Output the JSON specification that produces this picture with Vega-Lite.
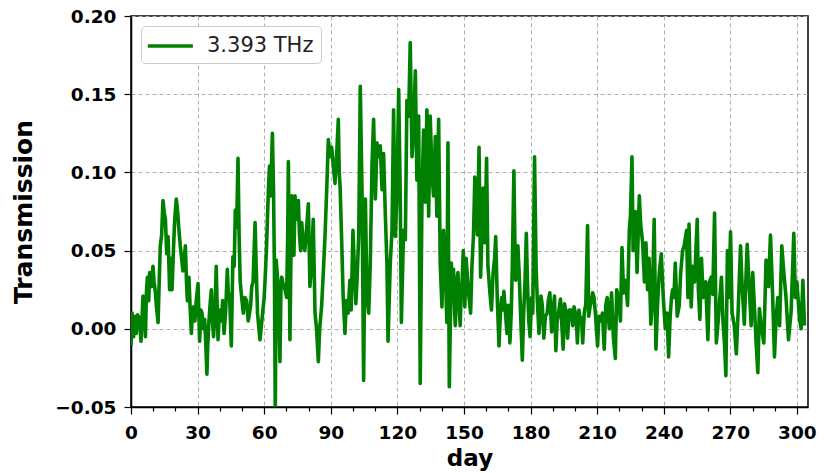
{
  "$schema": "https://vega.github.io/schema/vega-lite/v6.json",
  "width": 677,
  "height": 391,
  "autosize": {"type": "none"},
  "padding": {"left": 131, "top": 16, "right": 21, "bottom": 66},
  "background": "white",
  "config": {
    "font": "DejaVu Sans",
    "view": {"stroke": "black", "strokeWidth": 1.5},
    "axis": {
      "labelFont": "DejaVu Sans",
      "labelFontSize": 18.5,
      "labelFontWeight": "bold",
      "labelColor": "black",
      "titleFont": "DejaVu Sans",
      "titleFontSize": 23,
      "titleFontWeight": "bold",
      "titleColor": "black",
      "domainColor": "black",
      "domainWidth": 1.5,
      "tickColor": "black",
      "tickWidth": 1.2,
      "gridColor": "#b0b0b0",
      "gridDash": [4, 3],
      "gridWidth": 1
    },
    "legend": {
      "orient": "top-left",
      "offset": 10,
      "padding": 7,
      "strokeColor": "#cccccc",
      "fillColor": "white",
      "cornerRadius": 4,
      "symbolType": "M-1.2,0L2.9,0",
      "symbolSize": 484,
      "symbolStrokeWidth": 3.5,
      "labelFont": "DejaVu Sans",
      "labelFontSize": 21,
      "labelFontWeight": "normal",
      "labelColor": "#222222",
      "labelOffset": 33
    }
  },
  "data": {
    "values": [
      {"day":0,"value":-0.011},{"day":0.5,"value":0.010},{"day":1.2,"value":-0.005},{"day":2.0,"value":0.008},{"day":2.4,"value":-0.003},{"day":3.0,"value":0.009},{"day":3.9,"value":0.006},{"day":4.5,"value":-0.008},{"day":5.4,"value":0.021},{"day":6.0,"value":0.012},{"day":6.5,"value":-0.005},{"day":7.0,"value":0.025},{"day":7.4,"value":0.033},{"day":8.0,"value":0.018},{"day":8.4,"value":0.036},{"day":9.2,"value":0.027},{"day":9.9,"value":0.040},{"day":10.4,"value":0.030},{"day":11.0,"value":0.023},{"day":11.6,"value":0.012},{"day":12.2,"value":0.004},{"day":12.7,"value":0.030},{"day":13.2,"value":0.053},{"day":13.8,"value":0.060},{"day":14.4,"value":0.082},{"day":15.0,"value":0.074},{"day":15.5,"value":0.070},{"day":16.1,"value":0.048},{"day":16.7,"value":0.059},{"day":17.1,"value":0.040},{"day":17.4,"value":0.025},{"day":18.0,"value":0.045},{"day":18.5,"value":0.025},{"day":19.1,"value":0.050},{"day":19.7,"value":0.070},{"day":20.4,"value":0.083},{"day":21.0,"value":0.075},{"day":21.5,"value":0.065},{"day":22.2,"value":0.053},{"day":22.8,"value":0.045},{"day":23.4,"value":0.037},{"day":24.0,"value":0.045},{"day":24.5,"value":0.053},{"day":25.0,"value":0.030},{"day":25.4,"value":0.018},{"day":26.1,"value":0.033},{"day":26.6,"value":0.015},{"day":27.2,"value":-0.003},{"day":27.7,"value":0.010},{"day":28.2,"value":0.014},{"day":28.8,"value":0.005},{"day":29.4,"value":0.018},{"day":30.2,"value":0.029},{"day":30.9,"value":-0.008},{"day":31.5,"value":0.012},{"day":32.0,"value":0.010},{"day":32.6,"value":0.000},{"day":33.2,"value":0.006},{"day":33.7,"value":-0.010},{"day":34.2,"value":-0.029},{"day":34.6,"value":-0.010},{"day":35.0,"value":0.002},{"day":35.6,"value":0.015},{"day":36.2,"value":0.025},{"day":36.7,"value":0.005},{"day":37.2,"value":-0.005},{"day":37.8,"value":0.010},{"day":38.4,"value":0.040},{"day":38.8,"value":0.015},{"day":39.2,"value":-0.007},{"day":39.9,"value":0.012},{"day":40.7,"value":0.005},{"day":41.3,"value":0.018},{"day":41.9,"value":-0.003},{"day":42.6,"value":0.010},{"day":43.4,"value":0.038},{"day":43.9,"value":0.020},{"day":44.4,"value":0.022},{"day":44.8,"value":0.005},{"day":45.2,"value":-0.011},{"day":45.9,"value":0.046},{"day":46.5,"value":0.040},{"day":47.0,"value":0.076},{"day":47.6,"value":0.065},{"day":48.2,"value":0.109},{"day":48.7,"value":0.060},{"day":49.2,"value":0.030},{"day":49.8,"value":0.021},{"day":50.6,"value":0.010},
      {"day":51.3,"value":0.020},{"day":52.1,"value":0.018},{"day":52.8,"value":0.005},{"day":53.4,"value":0.010},{"day":53.9,"value":0.015},{"day":54.4,"value":0.027},{"day":55.0,"value":0.030},{"day":55.9,"value":0.068},{"day":56.5,"value":0.035},{"day":57.0,"value":0.010},{"day":57.5,"value":0.002},{"day":58.1,"value":-0.007},{"day":58.6,"value":0.000},{"day":59.3,"value":0.010},{"day":60.0,"value":0.020},{"day":60.4,"value":0.031},{"day":61.0,"value":0.050},{"day":61.9,"value":0.089},{"day":62.4,"value":0.104},{"day":62.9,"value":0.085},{"day":63.4,"value":0.110},{"day":63.7,"value":0.125},{"day":64.2,"value":0.090},{"day":64.6,"value":0.040},{"day":65.0,"value":-0.056},{"day":65.4,"value":0.044},{"day":65.9,"value":0.035},{"day":66.4,"value":0.020},{"day":67.1,"value":-0.021},{"day":67.6,"value":0.030},{"day":67.9,"value":0.033},{"day":68.6,"value":0.028},{"day":69.4,"value":0.025},{"day":70.1,"value":0.020},{"day":70.6,"value":0.060},{"day":70.9,"value":0.107},{"day":71.3,"value":0.040},{"day":71.6,"value":-0.007},{"day":72.0,"value":0.040},{"day":72.4,"value":0.085},{"day":72.9,"value":0.060},{"day":73.4,"value":0.047},{"day":73.9,"value":0.085},{"day":74.5,"value":0.070},{"day":75.4,"value":0.082},{"day":75.9,"value":0.060},{"day":76.4,"value":0.050},{"day":76.9,"value":0.068},{"day":77.6,"value":0.055},{"day":78.3,"value":0.050},{"day":79.0,"value":0.062},{"day":79.9,"value":0.080},{"day":80.3,"value":0.050},{"day":80.6,"value":0.027},{"day":81.3,"value":0.040},{"day":82.1,"value":0.070},{"day":82.5,"value":0.040},{"day":82.9,"value":0.010},{"day":83.6,"value":0.000},{"day":84.4,"value":-0.021},{"day":85.0,"value":0.000},{"day":85.9,"value":0.015},{"day":86.6,"value":0.035},{"day":87.4,"value":0.059},{"day":88.2,"value":0.090},{"day":88.9,"value":0.121},{"day":89.6,"value":0.110},{"day":90.4,"value":0.116},{"day":91.1,"value":0.105},{"day":91.9,"value":0.093},{"day":92.6,"value":0.110},{"day":93.4,"value":0.134},{"day":93.8,"value":0.100},{"day":94.2,"value":0.091},{"day":94.9,"value":0.057},{"day":95.6,"value":0.020},{"day":96.4,"value":-0.003},{"day":97.0,"value":0.018},{"day":97.8,"value":0.010},{"day":98.6,"value":0.031},{"day":99.2,"value":0.012},{"day":100.0,"value":0.063},{"day":100.6,"value":0.040},{"day":101.3,"value":0.016},{"day":101.8,"value":0.030},
      {"day":102.6,"value":0.060},{"day":103.3,"value":0.155},{"day":104.1,"value":0.085},{"day":104.8,"value":-0.033},{"day":105.6,"value":0.083},{"day":106.3,"value":0.021},{"day":107.1,"value":0.010},{"day":107.8,"value":0.042},{"day":108.6,"value":0.106},{"day":109.3,"value":0.134},{"day":110.1,"value":0.083},{"day":110.8,"value":0.119},{"day":111.6,"value":0.110},{"day":112.3,"value":0.117},{"day":113.1,"value":0.089},{"day":113.8,"value":0.112},{"day":114.6,"value":0.072},{"day":115.3,"value":0.042},{"day":115.8,"value":-0.008},{"day":116.8,"value":0.042},{"day":117.6,"value":0.063},{"day":118.3,"value":0.140},{"day":119.1,"value":0.059},{"day":119.8,"value":0.085},{"day":120.6,"value":0.153},{"day":121.3,"value":0.085},{"day":121.8,"value":0.004},{"day":122.8,"value":0.063},{"day":123.6,"value":0.057},{"day":124.3,"value":0.146},{"day":125.1,"value":0.136},{"day":125.8,"value":0.183},{"day":126.6,"value":0.110},{"day":127.3,"value":0.127},{"day":128.1,"value":0.165},{"day":128.8,"value":0.095},{"day":129.6,"value":0.136},{"day":130.3,"value":-0.035},{"day":131.1,"value":0.085},{"day":131.8,"value":0.127},{"day":132.6,"value":0.081},{"day":133.3,"value":0.140},{"day":134.1,"value":0.072},{"day":134.8,"value":0.136},{"day":135.6,"value":0.099},{"day":136.3,"value":0.085},{"day":137.1,"value":0.123},{"day":137.8,"value":0.072},{"day":138.6,"value":0.134},{"day":139.3,"value":0.042},{"day":140.1,"value":0.014},{"day":140.8,"value":0.063},{"day":141.6,"value":0.038},{"day":142.3,"value":0.004},{"day":142.8,"value":0.119},{"day":143.4,"value":-0.037},{"day":144.3,"value":0.042},{"day":144.9,"value":0.020},{"day":145.3,"value":0.038},{"day":145.8,"value":0.010},{"day":146.1,"value":0.002},{"day":146.7,"value":0.030},{"day":147.3,"value":0.036},{"day":147.8,"value":0.015},{"day":148.3,"value":0.002},{"day":148.8,"value":0.025},{"day":149.1,"value":0.028},{"day":149.7,"value":0.050},
      {"day":150.4,"value":0.014},{"day":151.0,"value":0.045},{"day":151.7,"value":0.030},{"day":152.3,"value":0.020},{"day":153.0,"value":0.010},{"day":153.6,"value":0.040},{"day":154.3,"value":0.060},{"day":154.9,"value":0.097},{"day":155.5,"value":0.080},{"day":156.1,"value":0.060},{"day":156.8,"value":0.116},{"day":157.5,"value":0.033},{"day":158.1,"value":0.060},{"day":158.6,"value":0.090},{"day":159.4,"value":0.055},{"day":160.2,"value":0.109},{"day":160.8,"value":0.040},{"day":161.7,"value":0.023},{"day":162.4,"value":0.012},{"day":163.1,"value":0.035},{"day":163.8,"value":0.045},{"day":164.3,"value":0.059},{"day":165.0,"value":0.020},{"day":165.8,"value":-0.011},{"day":166.4,"value":0.010},{"day":167.0,"value":0.020},{"day":167.6,"value":0.012},{"day":168.0,"value":0.024},{"day":168.7,"value":0.010},{"day":169.4,"value":-0.003},{"day":170.0,"value":0.015},{"day":170.7,"value":-0.009},{"day":171.3,"value":0.010},{"day":171.8,"value":0.040},{"day":172.5,"value":0.101},{"day":172.9,"value":0.060},{"day":173.3,"value":0.031},{"day":173.8,"value":0.040},{"day":174.3,"value":0.053},{"day":174.9,"value":0.035},{"day":175.5,"value":0.010},{"day":176.3,"value":-0.020},{"day":176.9,"value":0.010},{"day":177.5,"value":0.030},{"day":178.1,"value":0.061},{"day":178.7,"value":0.025},{"day":179.2,"value":0.005},{"day":179.8,"value":-0.005},{"day":180.5,"value":0.020},{"day":181.0,"value":0.010},{"day":181.8,"value":0.110},{"day":182.5,"value":0.040},{"day":183.0,"value":0.020},{"day":183.8,"value":-0.003},{"day":184.7,"value":0.021},{"day":185.3,"value":0.015},{"day":186.0,"value":-0.006},{"day":186.7,"value":0.008},{"day":187.5,"value":0.010},{"day":188.0,"value":0.018},{"day":188.7,"value":0.023},{"day":189.5,"value":-0.002},{"day":190.1,"value":0.010},{"day":190.8,"value":0.021},{"day":191.4,"value":-0.014},{"day":192.0,"value":0.005},{"day":192.6,"value":0.010},{"day":193.5,"value":0.019},{"day":194.0,"value":0.005},{"day":194.7,"value":-0.013},{"day":195.3,"value":0.016},{"day":196.0,"value":0.010},{"day":196.7,"value":-0.006},{"day":197.4,"value":0.012},{"day":198.3,"value":0.012},{"day":199.0,"value":0.002},{"day":199.6,"value":0.014},
      {"day":200.5,"value":0.008},{"day":201.1,"value":-0.009},{"day":201.8,"value":0.012},{"day":202.5,"value":0.004},{"day":203.0,"value":0.007},{"day":203.5,"value":-0.009},{"day":204.2,"value":0.010},{"day":204.9,"value":0.016},{"day":205.7,"value":0.066},{"day":206.2,"value":0.008},{"day":206.8,"value":0.014},{"day":207.5,"value":0.018},{"day":208.0,"value":0.023},{"day":208.6,"value":0.020},{"day":209.2,"value":0.010},{"day":210.2,"value":-0.011},{"day":210.8,"value":0.008},{"day":211.6,"value":0.005},{"day":212.4,"value":0.010},{"day":213.2,"value":-0.013},{"day":213.9,"value":0.015},{"day":214.5,"value":0.020},{"day":215.5,"value":0.000},{"day":216.5,"value":0.023},{"day":217.3,"value":-0.005},{"day":218.2,"value":-0.019},{"day":218.8,"value":0.025},{"day":219.7,"value":0.019},{"day":220.5,"value":0.005},{"day":221.2,"value":0.052},{"day":221.9,"value":0.023},{"day":222.6,"value":0.031},{"day":223.0,"value":0.029},{"day":223.7,"value":0.015},{"day":224.5,"value":0.063},{"day":225.0,"value":0.072},{"day":225.7,"value":0.110},{"day":226.2,"value":0.050},{"day":226.7,"value":0.068},{"day":227.2,"value":0.075},{"day":228.0,"value":0.036},{"day":229.0,"value":0.085},{"day":229.6,"value":0.067},{"day":230.5,"value":0.055},{"day":231.3,"value":0.030},{"day":232.0,"value":0.055},{"day":232.7,"value":0.025},{"day":233.4,"value":0.045},{"day":234.2,"value":0.003},{"day":234.8,"value":0.015},{"day":235.7,"value":0.070},{"day":236.5,"value":-0.013},{"day":237.2,"value":0.015},{"day":238.0,"value":0.036},{"day":238.9,"value":0.048},{"day":239.8,"value":0.020},{"day":240.7,"value":0.000},{"day":241.5,"value":0.010},{"day":242.2,"value":-0.018},{"day":242.9,"value":0.008},{"day":243.5,"value":0.020},{"day":244.0,"value":0.025},{"day":244.6,"value":0.020},{"day":245.2,"value":0.042},{"day":246.1,"value":0.008},{"day":247.0,"value":0.015},{"day":247.6,"value":0.035},{"day":248.5,"value":0.050},{"day":249.2,"value":0.053},{"day":250.3,"value":0.063},{"day":250.9,"value":0.020},{"day":251.4,"value":0.067},
      {"day":251.9,"value":0.035},{"day":252.4,"value":0.014},{"day":253.0,"value":0.040},{"day":253.9,"value":0.030},{"day":254.5,"value":0.050},{"day":255.1,"value":0.070},{"day":255.6,"value":0.025},{"day":256.3,"value":0.006},{"day":257.0,"value":0.045},{"day":257.8,"value":0.020},{"day":258.9,"value":0.030},{"day":259.9,"value":-0.007},{"day":260.6,"value":0.030},{"day":261.4,"value":0.033},{"day":262.1,"value":0.022},{"day":262.9,"value":0.074},{"day":263.7,"value":-0.009},{"day":264.6,"value":0.006},{"day":265.2,"value":0.018},{"day":266.0,"value":0.033},{"day":266.7,"value":0.005},{"day":267.4,"value":-0.010},{"day":268.0,"value":-0.030},{"day":268.7,"value":0.050},{"day":269.4,"value":0.020},{"day":270.1,"value":0.062},{"day":270.8,"value":0.010},{"day":271.8,"value":0.002},{"day":272.7,"value":-0.016},{"day":273.5,"value":0.010},{"day":274.6,"value":0.053},{"day":275.3,"value":0.028},{"day":276.3,"value":0.003},{"day":277.6,"value":0.054},{"day":278.4,"value":0.030},{"day":279.4,"value":0.002},{"day":280.1,"value":0.036},{"day":280.9,"value":0.013},{"day":281.7,"value":-0.011},{"day":282.4,"value":-0.028},{"day":283.1,"value":0.013},{"day":283.9,"value":0.002},{"day":285.1,"value":-0.009},{"day":286.1,"value":0.044},{"day":287.2,"value":0.027},{"day":288.1,"value":0.060},{"day":289.0,"value":0.024},{"day":289.9,"value":-0.018},{"day":290.6,"value":0.006},{"day":291.4,"value":0.020},{"day":292.2,"value":0.002},{"day":293.2,"value":0.053},{"day":294.1,"value":0.036},{"day":295.1,"value":0.020},{"day":296.2,"value":-0.007},{"day":297.4,"value":0.011},{"day":298.6,"value":0.061},{"day":299.3,"value":0.020},{"day":300.0,"value":0.030},{"day":301.2,"value":0.006},{"day":301.9,"value":0.000},{"day":302.7,"value":0.031},{"day":303.4,"value":0.002}
    ]
  },
  "mark": {"type": "line", "strokeWidth": 3.6, "strokeJoin": "round", "clip": true},
  "encoding": {
    "x": {
      "field": "day",
      "type": "quantitative",
      "scale": {"domain": [0, 305], "nice": false, "zero": false},
      "axis": {
        "title": "day",
        "titlePadding": 6,
        "values": [0,10,20,30,40,50,60,70,80,90,100,110,120,130,140,150,160,170,180,190,200,210,220,230,240,250,260,270,280,290,300],
        "labelExpr": "datum.value % 30 === 0 ? datum.label : ''",
        "labelOverlap": false,
        "labelFlush": false,
        "labelPadding": 9,
        "tickSize": {"condition": {"test": "datum.value % 30 === 0", "value": 7}, "value": 4},
        "gridOpacity": {"condition": {"test": "datum.value % 30 === 0", "value": 1}, "value": 0}
      }
    },
    "y": {
      "field": "value",
      "type": "quantitative",
      "scale": {"domain": [-0.05, 0.2], "nice": false, "zero": false},
      "axis": {
        "title": "Transmission",
        "titleFontSize": 25,
        "titlePadding": 18,
        "values": [-0.05, 0, 0.05, 0.1, 0.15, 0.2],
        "labelExpr": "replace(format(datum.value, '.2f'), '-', '\u2212')",
        "tickSize": 7,
        "labelPadding": 8
      }
    },
    "color": {
      "datum": "3.393 THz",
      "type": "nominal",
      "scale": {"range": ["#008000"]},
      "legend": {"title": null}
    }
  }
}
